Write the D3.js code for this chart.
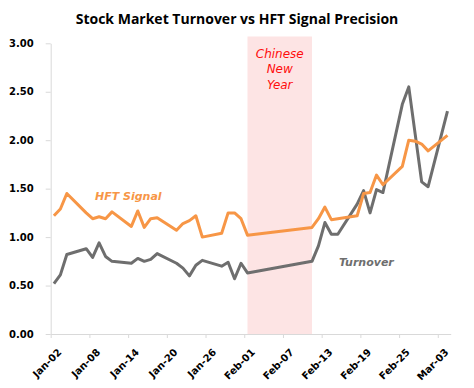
<!DOCTYPE html>
<html>
<head>
<meta charset="utf-8">
<script src="https://cdn.jsdelivr.net/npm/d3@7"></script>
<style>
  body { margin: 0; background: #fff; }
  svg text { font-family: "DejaVu Sans", sans-serif; }
</style>
</head>
<body>
<div id="chart"></div>
<script>
// trading days (2019), Chinese New Year closure Feb 04 - Feb 08
const dates = [
  "2019-01-02","2019-01-03","2019-01-04","2019-01-07","2019-01-08","2019-01-09","2019-01-10","2019-01-11",
  "2019-01-14","2019-01-15","2019-01-16","2019-01-17","2019-01-18","2019-01-21","2019-01-22","2019-01-23",
  "2019-01-24","2019-01-25","2019-01-28","2019-01-29","2019-01-30","2019-01-31","2019-02-01",
  "2019-02-11","2019-02-12","2019-02-13","2019-02-14","2019-02-15","2019-02-18","2019-02-19","2019-02-20",
  "2019-02-21","2019-02-22","2019-02-25","2019-02-26","2019-02-27","2019-02-28","2019-03-01","2019-03-04"
];

const turnover = [
  0.52, 0.61, 0.82, 0.88, 0.79, 0.94, 0.80, 0.75,
  0.73, 0.78, 0.75, 0.77, 0.83, 0.73, 0.68, 0.60,
  0.71, 0.76, 0.70, 0.74, 0.57, 0.73, 0.63,
  0.75, 0.91, 1.15, 1.03, 1.03, 1.34, 1.48, 1.25,
  1.49, 1.46, 2.37, 2.55, 2.06, 1.57, 1.52, 2.30
];

const hftSignal = [
  1.22, 1.29, 1.45, 1.25, 1.19, 1.21, 1.19, 1.26,
  1.11, 1.27, 1.10, 1.19, 1.20, 1.07, 1.14, 1.17,
  1.22, 1.00, 1.04, 1.25, 1.25, 1.19, 1.02,
  1.10, 1.19, 1.31, 1.18, 1.19, 1.22, 1.45, 1.46,
  1.64, 1.54, 1.73, 2.00, 1.99, 1.96, 1.89, 2.05
];

const holiday = { start: "2019-02-01", end: "2019-02-11", label: ["Chinese", "New", "Year"] };
const yTicks = [0, 0.5, 1, 1.5, 2, 2.5, 3];

const width = 474, height = 388;
const parse = d3.timeParse("%Y-%m-%d");
const halfDay = d => d3.timeHour.offset(parse(d), 12); // points sit mid-day (date axis, between ticks)

const svg = d3.select("#chart").append("svg")
  .attr("width", width)
  .attr("height", height);

const x = d3.scaleTime()
  .domain([parse("2019-01-02"), parse("2019-03-05")])
  .range([50.7, 450.7]);

const y = d3.scaleLinear()
  .domain([0, 3])
  .range([334, 43.3]);

// holiday shading
const hx0 = x(halfDay(holiday.start)), hx1 = x(halfDay(holiday.end));
svg.append("rect")
  .attr("x", hx0)
  .attr("y", 36.5)
  .attr("width", hx1 - hx0)
  .attr("height", y(0) - 36.5)
  .attr("fill", "#fde4e4");

svg.append("text")
  .attr("y", 57.5)
  .attr("text-anchor", "middle")
  .attr("fill", "#ff0d0d")
  .style("font-style", "italic")
  .style("font-size", "12px")
  .selectAll("tspan")
  .data(holiday.label)
  .join("tspan")
    .attr("x", (hx0 + hx1) / 2)
    .attr("dy", (d, i) => i === 0 ? 0 : 15.5)
    .text(d => d);

// axes
const xAxis = svg.append("g")
  .attr("transform", `translate(0,${y(0)})`)
  .call(d3.axisBottom(x)
    .tickValues(d3.timeDay.range(parse("2019-01-02"), parse("2019-03-05"), 6))
    .tickFormat(d3.timeFormat("%b-%d"))
    .tickSize(4)
    .tickSizeOuter(0));

xAxis.select(".domain").attr("stroke", "#d9d9d9");
xAxis.selectAll(".tick line").attr("stroke", "#d9d9d9");
xAxis.selectAll(".tick text")
  .attr("fill", "#000")
  .style("font-size", "10px")
  .style("font-weight", "bold")
  .attr("text-anchor", "end")
  .attr("dx", 0)
  .attr("dy", 0)
  .attr("transform", "translate(6,14) rotate(-45)");

const yAxis = svg.append("g")
  .attr("transform", `translate(${x.range()[0]},0)`)
  .call(d3.axisLeft(y)
    .tickValues(yTicks)
    .tickFormat(d3.format(".2f"))
    .tickSize(5)
    .tickSizeOuter(0));

yAxis.select(".domain").attr("stroke", "#d9d9d9");
yAxis.selectAll(".tick line").attr("stroke", "#d9d9d9");
yAxis.selectAll(".tick text")
  .attr("fill", "#000")
  .attr("x", -17)
  .style("font-size", "10px")
  .style("font-weight", "bold");

// lines
const line = values => d3.line()
  .x((d, i) => x(halfDay(dates[i])))
  .y(d => y(d))(values);

svg.append("path")
  .attr("d", line(turnover))
  .attr("fill", "none")
  .attr("stroke", "#6e6e6e")
  .attr("stroke-width", 3)
  .attr("stroke-linejoin", "round");

svg.append("path")
  .attr("d", line(hftSignal))
  .attr("fill", "none")
  .attr("stroke", "#f79646")
  .attr("stroke-width", 3)
  .attr("stroke-linejoin", "round");

// series labels
svg.append("text")
  .attr("x", 95).attr("y", 200)
  .attr("fill", "#f79646")
  .style("font-size", "11px")
  .style("font-weight", "bold")
  .style("font-style", "italic")
  .text("HFT Signal");

svg.append("text")
  .attr("x", 339).attr("y", 266)
  .attr("fill", "#6e6e6e")
  .style("font-size", "11px")
  .style("font-weight", "bold")
  .style("font-style", "italic")
  .text("Turnover");

// title
svg.append("text")
  .attr("x", 237).attr("y", 23.5)
  .attr("text-anchor", "middle")
  .style("font-family", "'Open Sans', sans-serif")
  .style("font-size", "14px")
  .style("font-weight", "bold")
  .text("Stock Market Turnover vs HFT Signal Precision");
</script>
</body>
</html>
